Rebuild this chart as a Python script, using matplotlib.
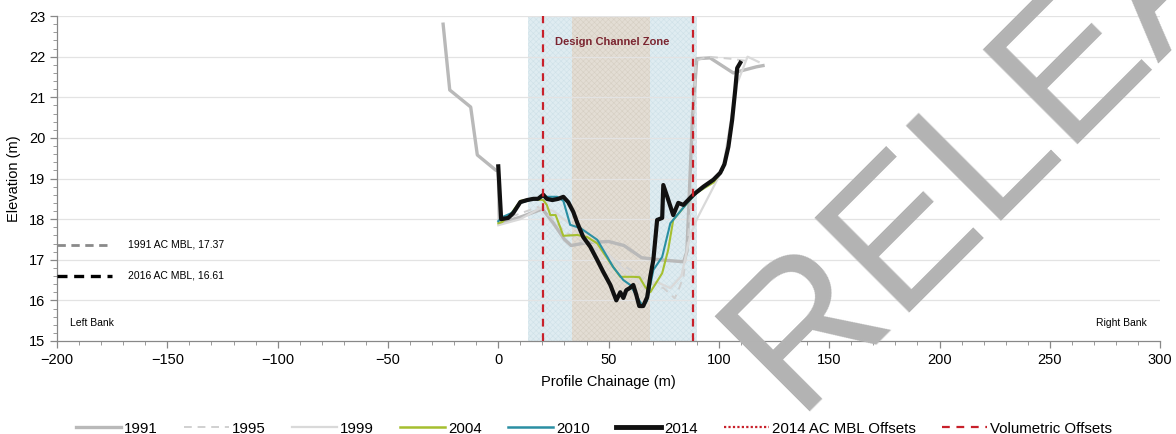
import matplotlib
matplotlib.use("Agg")
import matplotlib.pyplot as plt
from matplotlib.lines import Line2D
from matplotlib.ticker import MultipleLocator
import numpy as np

plt.rcParams['font.family'] = ['Liberation Sans', 'DejaVu Sans']
plt.rcParams['hatch.linewidth'] = 0.4

# Cross-section surveys: chainage (m) and elevation (m)
x_1991 = [-25, -22, -12.5, -9.5, -1, 0, 0.5, 10, 20, 25, 30, 33, 40, 50, 57, 65, 73, 84, 85.5, 86.5, 88, 90, 96, 106.5, 117, 120]
y_1991 = [22.8, 21.18, 20.76, 19.58, 19.2, 19.2, 17.9, 18.05, 18.25, 17.9, 17.5, 17.35, 17.42, 17.45, 17.35, 17.05, 17.0, 16.95, 17.2, 18.5, 20.5, 21.95, 21.97, 21.6, 21.75, 21.78]

x_1995 = [0, 8, 18, 24, 30, 38, 46, 54, 60, 65, 70, 75, 80, 82, 84, 86, 88, 89.5, 95, 105, 112]
y_1995 = [17.95, 18.1, 18.3, 18.05, 17.7, 17.45, 17.2, 16.95, 16.75, 16.55, 16.4, 16.3, 16.05, 16.3, 16.6, 17.5, 19.0, 21.9, 22.0, 21.95, 21.9]

x_1999 = [0, 10, 20, 25, 32, 40, 47, 55, 60, 65, 72, 78, 83, 87, 90, 100, 102, 108, 113, 118]
y_1999 = [17.85, 18.0, 18.3, 18.2, 17.9, 17.55, 17.3, 16.85, 16.6, 16.4, 16.45, 16.3, 16.6, 17.6, 18.0, 19.05, 19.3, 21.3, 22.0, 21.87]

x_2004 = [0, 1.8, 6, 10, 15, 20.4, 22, 23.6, 26, 29.5, 35.8, 40.3, 44.9, 50.8, 55.3, 61.2, 64, 66.6, 68.9, 74.3, 77, 79.3, 85.7, 90, 97.5, 101.5]
y_2004 = [17.9, 17.93, 18.15, 18.45, 18.5, 18.47, 18.35, 18.1, 18.1, 17.59, 17.61, 17.56, 17.4, 16.92, 16.58, 16.58, 16.57, 16.33, 16.2, 16.67, 17.24, 17.98, 18.4, 18.65, 18.9, 19.2]

x_2010 = [0, 1.8, 6, 10, 15, 20.4, 26.7, 29.5, 32.6, 37.2, 44.9, 52.1, 56.7, 59.8, 63, 65.7, 67.5, 70.3, 74.3, 78, 85.7, 90, 97.5, 101.5]
y_2010 = [17.95, 18.05, 18.15, 18.4, 18.48, 18.55, 18.55, 18.45, 17.86, 17.78, 17.49, 16.82, 16.5, 16.38, 16.08, 15.84, 16.0, 16.75, 17.07, 17.9, 18.4, 18.65, 18.95, 19.2]

x_2014 = [0, 1.3, 4.5, 6.8, 10, 13.1, 15.9, 18, 20.4, 22, 24.5, 27.2, 29.5, 31.7, 34, 35.8, 38.5, 41.7, 44.9, 47.6, 50.8, 53.5, 55.3, 56.7, 58, 59.8, 61.2, 62.5, 63.9, 65.7, 67.5, 68.9, 70.3, 72, 74.3, 74.8, 76.6, 79.3, 81.6, 83.9, 88.4, 93, 97.5, 100.6, 102.5, 104.3, 106, 107.4, 108.3, 109.7]
y_2014 = [19.3, 18.0, 18.03, 18.15, 18.42, 18.47, 18.5, 18.5, 18.6, 18.5, 18.47, 18.5, 18.55, 18.42, 18.18, 17.91, 17.56, 17.32, 16.99, 16.7, 16.38, 16.0, 16.2, 16.06, 16.25, 16.31, 16.38, 16.15, 15.86, 15.86, 16.08, 16.58, 17.0, 17.98, 18.03, 18.84, 18.55, 18.1, 18.4, 18.35, 18.6, 18.8, 18.97, 19.14, 19.35, 19.78, 20.44, 21.18, 21.72, 21.85]

# Reference bed levels and zone limits
mbl_1991 = 17.37
mbl_2016 = 16.61
volumetric_offsets = [20.3, 88.2]
outer_zone = [13.5, 90.0]
design_zone = [33.5, 69.0]

x_ticks = [-200, -150, -100, -50, 0, 50, 100, 150, 200, 250, 300]
y_ticks = [15, 16, 17, 18, 19, 20, 21, 22, 23]

fig = plt.figure(figsize=(11.76, 4.34), dpi=100)
ax = fig.add_axes([0.0485, 0.2143, 0.938, 0.7487])

# Channel zones
ax.axvspan(outer_zone[0], outer_zone[1], facecolor='#dfecf1', edgecolor='#cfe1e8',
           hatch='xxxxxx', linewidth=0, zorder=0)
ax.axvspan(design_zone[0], design_zone[1], facecolor='#e3ddd4', edgecolor='#d6cfc3',
           hatch='xxxxxx', linewidth=0, zorder=0.5)

for yv in y_ticks[1:]:
    ax.axhline(yv, color='#e3e3e3', lw=0.9, zorder=0.8)

ax.plot(x_1991, y_1991, color='#b9b9b9', lw=2.4, zorder=2)
ax.plot(x_1995, y_1995, color='#d0d0d0', lw=1.4, ls=(0, (4, 3)), zorder=2)
ax.plot(x_1999, y_1999, color='#d9d9d9', lw=1.6, zorder=2)
ax.plot(x_2004, y_2004, color='#a5bf2f', lw=1.5, zorder=3)
ax.plot(x_2010, y_2010, color='#2a8fa3', lw=1.5, zorder=3)
ax.plot(x_2014, y_2014, color='#111111', lw=3.0, zorder=4, solid_joinstyle='round')

for xv in volumetric_offsets:
    ax.axvline(xv, color='#c8202a', lw=1.6, ls=(0, (3.5, 3)), zorder=5)

# Mean bed levels
ax.plot([-200, -175], [mbl_1991, mbl_1991], color='#8a8a8a', lw=2.0, ls=(0, (3, 2)), zorder=3)
ax.plot([-200, -175], [mbl_2016, mbl_2016], color='#000000', lw=2.4, ls=(0, (3, 2)), zorder=3)
ax.text(-168, mbl_1991, f"1991 AC MBL, {mbl_1991:.2f}", fontsize=7.5, va='center', ha='left')
ax.text(-168, mbl_2016, f"2016 AC MBL, {mbl_2016:.2f}", fontsize=7.5, va='center', ha='left')

ax.text(-194, 15.45, "Left Bank", fontsize=7.5, va='center', ha='left')
ax.text(294, 15.45, "Right Bank", fontsize=7.5, va='center', ha='right')
ax.text(51.7, 22.35, "Design Channel Zone", fontsize=8, fontweight='bold',
        color='#7b2530', ha='center', va='center', zorder=6)

ax.set_xlim(-200, 300)
ax.set_ylim(15, 23)
ax.set_xticks(x_ticks)
ax.set_yticks(y_ticks)
ax.xaxis.set_minor_locator(MultipleLocator(10))
ax.yaxis.set_minor_locator(MultipleLocator(0.2))
ax.tick_params(which='major', length=5, color='#888888', labelsize=10.5, width=0.9)
ax.tick_params(which='minor', length=3, color='#999999', width=0.7)
for s in ['top', 'right']:
    ax.spines[s].set_visible(False)
for s in ['left', 'bottom']:
    ax.spines[s].set_color('#888888')
    ax.spines[s].set_linewidth(0.9)
ax.set_xlabel("Profile Chainage (m)", fontsize=10.5, labelpad=6)
ax.set_ylabel("Elevation (m)", fontsize=10.5, labelpad=6)

handles = [
    Line2D([], [], color='#b9b9b9', lw=2.4),
    Line2D([], [], color='#d0d0d0', lw=1.4, ls=(0, (4, 3))),
    Line2D([], [], color='#d9d9d9', lw=1.6),
    Line2D([], [], color='#a5bf2f', lw=1.8),
    Line2D([], [], color='#2a8fa3', lw=1.8),
    Line2D([], [], color='#111111', lw=3.5),
    Line2D([], [], color='#c8202a', lw=1.6, ls=(0, (1, 1))),
    Line2D([], [], color='#c8202a', lw=1.6, ls=(0, (3.5, 3))),
]
labels = ['1991', '1995', '1999', '2004', '2010', '2014', '2014 AC MBL Offsets', 'Volumetric Offsets']
fig.legend(handles, labels, loc='lower center', bbox_to_anchor=(0.505, -0.035), ncol=8,
           frameon=False, fontsize=10.8, handlelength=3.0, handletextpad=0.2, columnspacing=1.75)

# Watermark
fig.text(795 / 1176, 1 - 412 / 434, "RELEASE", fontsize=140, color='#b3b3b3', rotation=45,
         rotation_mode='anchor', ha='left', va='baseline', zorder=20)

fig.savefig("out.png", dpi=100)
